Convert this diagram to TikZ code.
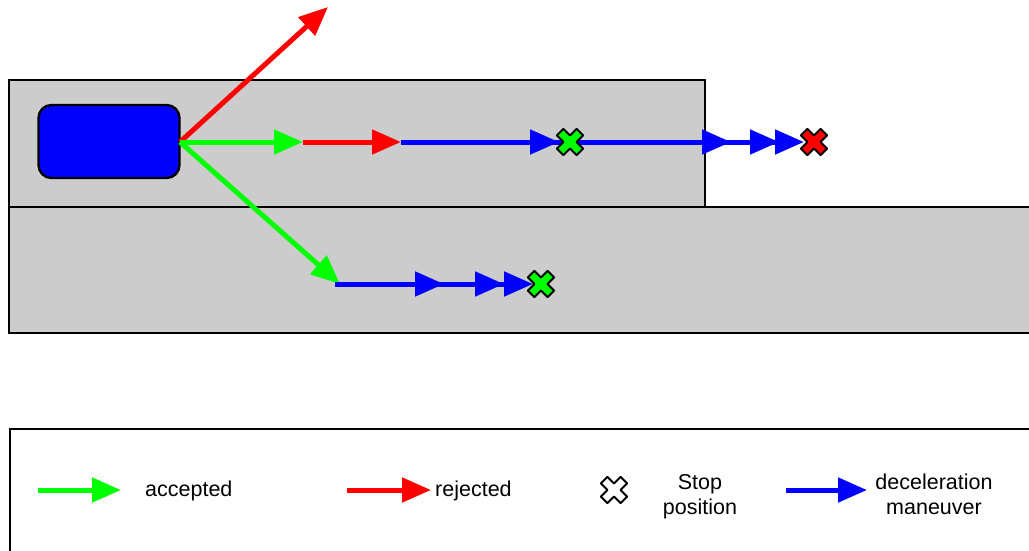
\documentclass[tikz,border=0pt]{standalone}
\usepackage{fontspec}
\setmainfont{Liberation Sans}
\usetikzlibrary{arrows.meta}
\definecolor{lanegray}{RGB}{204,204,204}
\definecolor{accgreen}{RGB}{0,255,0}
\definecolor{rejred}{RGB}{255,0,0}
\definecolor{decblue}{RGB}{0,0,255}
\tikzset{
  lane/.style={fill=lanegray, draw=black, line width=2pt},
  car/.style={fill=decblue, draw=black, line width=2.4pt, rounded corners=13pt},
  track/.style={line width=5pt, -{Triangle[length=29pt, width=24pt]}},
  plain/.style={line width=5pt},
  legendtext/.style={font=\fontsize{21.5}{25}\selectfont, align=center, inner sep=0pt},
  pics/stopmark/.style={code={
    \draw[pic actions, line width=2pt, line join=round, rotate=45]
      (4.6,14) -- (4.6,4.6) -- (14,4.6) -- (14,-4.6) -- (4.6,-4.6) -- (4.6,-14)
      -- (-4.6,-14) -- (-4.6,-4.6) -- (-14,-4.6) -- (-14,4.6) -- (-4.6,4.6)
      -- (-4.6,14) -- cycle;
  }}
}
\begin{document}
\begin{tikzpicture}[x=1pt, y=-1pt]
  \useasboundingbox (0,0) rectangle (1029,550);
  \begin{scope}
    \clip (0,0) rectangle (1029,550);
    % lanes
    \draw[lane] (9,80) rectangle (705,207);
    \draw[lane] (9,207) rectangle (1040,333);
    % legend frame
    \draw[draw=black, line width=1.2pt] (10,429) rectangle (1040,560);
  \end{scope}

  % vehicle
  \node[car, minimum width=141pt, minimum height=73pt, inner sep=0pt] (veh) at (109,141.5) {};
  \coordinate (o) at (180,142);

  % candidate trajectories
  \coordinate (up) at (328,7);
  \coordinate (g1) at (303,142);
  \coordinate (r1) at (401,142);
  \coordinate (b1) at (559,142);
  \coordinate (b2) at (731,142);
  \coordinate (b3) at (779,142);
  \coordinate (b4) at (804,142);
  \coordinate (stopA) at (570,142);
  \coordinate (stopB) at (814,142);

  \coordinate (g2) at (340,284);
  \coordinate (l0) at (335,284);
  \coordinate (l1) at (444,284);
  \coordinate (l2) at (504,284);
  \coordinate (l3) at (533,284);
  \coordinate (stopC) at (541,284);

  \draw[track, rejred] (o) -- (up);
  \draw[track, accgreen] (o) -- (g2);
  \draw[plain, decblue] (l0) -- (l2);
  \draw[track, decblue] (l0) -- (l1);
  \draw[track, decblue] (l1) -- (l2);
  \draw[track, decblue] (l2) -- (l3);

  \draw[plain, decblue] (r1) -- (b3);
  \draw[track, decblue] (r1) -- (b1);
  \draw[track, decblue] (stopA) -- (b2);
  \draw[track, decblue] (b2) -- (b3);
  \draw[track, decblue] (b3) -- (b4);
  \draw[track, rejred] (g1) -- (r1);
  \draw[track, accgreen] (o) -- (g1);

  \pic[fill=accgreen] at (stopA) {stopmark};
  \pic[fill=rejred] at (stopB) {stopmark};
  \pic[fill=accgreen] at (stopC) {stopmark};

  % legend
  \coordinate (la0) at (38,490);
  \coordinate (la1) at (121,490);
  \draw[track, accgreen] (la0) -- (la1);
  \node[legendtext, anchor=west] (lacc) at (145,491) {accepted};

  \coordinate (lr0) at (347,490);
  \coordinate (lr1) at (431,490);
  \draw[track, rejred] (lr0) -- (lr1);
  \node[legendtext, anchor=west] (lrej) at (435,491) {rejected};

  \pic[fill=white] at (614,490) {stopmark};
  \node[legendtext] (lstop) at (700,497) {Stop\\position};

  \coordinate (lb0) at (786,490);
  \coordinate (lb1) at (867,490);
  \draw[track, decblue] (lb0) -- (lb1);
  \node[legendtext] (ldec) at (934,494) {deceleration\\maneuver};
\end{tikzpicture}
\end{document}
